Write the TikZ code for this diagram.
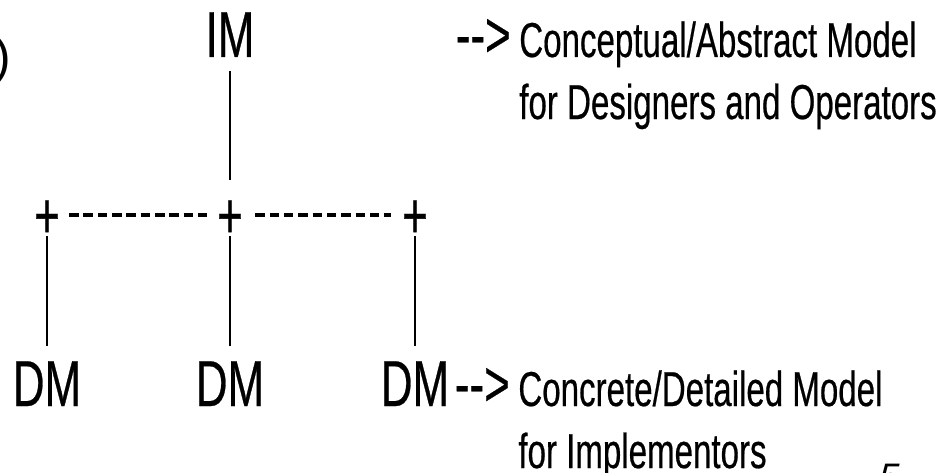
\documentclass[tikz,border=0pt]{standalone}
\usepackage{fontspec}
\setmainfont{Liberation Sans}
\newfontfamily\narrowsf[FakeStretch=0.675, FakeBold=0.4, Ligatures=TeXOff]{Liberation Sans}
\usetikzlibrary{positioning}
\begin{document}
\begin{tikzpicture}[x=0.02cm, y=-0.02cm, line cap=butt,
	big/.style={font=\narrowsf\fontsize{37}{40}\selectfont, inner sep=0pt},
	desc/.style={font=\narrowsf\fontsize{27.9}{35.3}\selectfont, inner sep=0pt, align=left, yshift=-35.3pt},
	plus/.style={big, text height=26.1pt, text depth=0pt},
	stem/.style={line width=0.8pt},
	hyph/.style={line width=1.9pt, dash pattern=on 5.4pt off 2.75pt}]
	\useasboundingbox (0,0) rectangle (950,473);
	%%%%%%%%%%%%%%%%%%%%%%%%%%%%%%%%%
	\coordinate (T) at (230,57);
	\coordinate (JL) at (47,215);
	\coordinate (JM) at (230,215);
	\coordinate (JR) at (415,215);
	\coordinate (BL) at (47,406);
	\coordinate (BM) at (230,406);
	\coordinate (BR) at (415,406);
	%%%%%%%%%%%%%%%%%%%%%%%%%%%%%%%%%
	\node[big, anchor=base] (im) at (T) {IM};
	\node[plus] (pL) at (JL) {+};
	\node[plus] (pM) at (JM) {+};
	\node[plus] (pR) at (JR) {+};
	\node[big, anchor=base] (dmL) at (BL) {DM};
	\node[big, anchor=base] (dmM) at (BM) {DM};
	\node[big, anchor=base] (dmR) at (BR) {DM};
	%%%%%%%%%%%%%%%%%%%%%%%%%%%%%%%%%
	\node[big, anchor=base west] (arT) at (455.5,57) {-->};
	\node[big, base right=2.9pt of dmR] (arB) {-->};
	\node[desc, base right=4.5pt of arT] (dsT) {Conceptual/Abstract Model\\for Designers and Operators};
	\node[desc, base right=4.5pt of arB] (dsB) {Concrete/Detailed Model\\for Implementors};
	%%%%%%%%%%%%%%%%%%%%%%%%%%%%%%%%%
	\draw[stem, shorten <=7.9pt, shorten >=6.8pt] (im) -- (pM);
	\draw[stem, shorten <=-1.1pt, shorten >=8.6pt] (pL) -- (dmL);
	\draw[stem, shorten <=-1.1pt, shorten >=8.6pt] (pM) -- (dmM);
	\draw[stem, shorten <=-1.1pt, shorten >=8.6pt] (pR) -- (dmR);
	\draw[hyph, shorten <=5.1pt, shorten >=5.1pt] (pL) -- (pM);
	\draw[hyph, shorten <=6.9pt, shorten >=6.3pt] (pM) -- (pR);
	%%%%%%%%%%%%%%%%%%%%%%%%%%%%%%%%%
	\node[font=\fontsize{28.3}{30}\selectfont, inner sep=0pt, anchor=base east] (par) at (11.5,74) {)};
	\node[font=\itshape\fontsize{21}{24}\selectfont, inner sep=0pt, anchor=base west] (pg) at (879,489) {5};
\end{tikzpicture}
\end{document}
